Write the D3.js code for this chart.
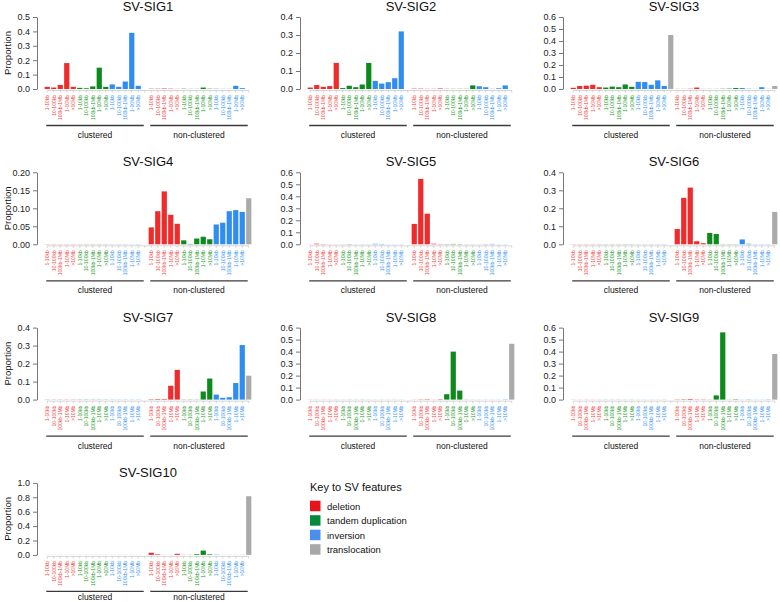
<!DOCTYPE html>
<html>
<head>
<meta charset="utf-8">
<script src="https://cdn.jsdelivr.net/npm/d3@7"></script>
<style>
  body { margin: 0; background: #fff; }
  svg, svg text { font-family: "Liberation Sans", Arial, sans-serif; }
</style>
</head>
<body>
<svg id="chart"></svg>
<script>
// ---- data ----
const SIZE_LABELS = ["1-10kb", "10-100kb", "100kb-1Mb", "1-10Mb", ">10Mb"];
const SV_TYPES = ["deletion", "tandem duplication", "inversion", "translocation"];
const GROUPS = ["clustered", "non-clustered"];
const SIGNATURES = ["SV-SIG1", "SV-SIG2", "SV-SIG3", "SV-SIG4", "SV-SIG5",
  "SV-SIG6", "SV-SIG7", "SV-SIG8", "SV-SIG9", "SV-SIG10"];
const Y_MAX = [0.5, 0.4, 0.6, 0.2, 0.6, 0.4, 0.4, 0.6, 0.6, 1.0];
const Y_STEP = [0.1, 0.1, 0.1, 0.05, 0.1, 0.1, 0.1, 0.1, 0.1, 0.2];

// order: clustered del x5, tds x5, inv x5, trans; then non-clustered same
const sig1 = [0.015, 0.01, 0.028, 0.18, 0.015, 0.008, 0.005, 0.018, 0.148, 0.015, 0.032, 0.015, 0.052, 0.39, 0.022, 0,
  0.002, 0.002, 0.003, 0.002, 0.001, 0.002, 0.001, 0.001, 0.01, 0.002, 0.002, 0.001, 0.001, 0.022, 0.006, 0];
const sig2 = [0.008, 0.022, 0.012, 0.016, 0.145, 0.005, 0.018, 0.01, 0.025, 0.145, 0.045, 0.03, 0.038, 0.06, 0.32, 0,
  0.002, 0.002, 0.001, 0.001, 0.003, 0.001, 0.001, 0.001, 0.001, 0.02, 0.015, 0.01, 0.001, 0.004, 0.02, 0];
const sig3 = [0.01, 0.025, 0.028, 0.035, 0.015, 0.012, 0.02, 0.015, 0.038, 0.018, 0.06, 0.058, 0.035, 0.072, 0.025, 0.45,
  0.001, 0.001, 0.002, 0.012, 0.001, 0.001, 0.001, 0.002, 0.003, 0.008, 0.008, 0.002, 0.001, 0.015, 0.001, 0.025];
const sig4 = [0.0005, 0.0005, 0.0005, 0.0005, 0.0005, 0.0005, 0.0005, 0.0005, 0.0005, 0.0005, 0.0005, 0.0005, 0.0005, 0.0005, 0.0005, 0,
  0.047, 0.092, 0.147, 0.082, 0.057, 0.011, 0.001, 0.016, 0.021, 0.014, 0.055, 0.06, 0.092, 0.095, 0.09, 0.128];
const sig5 = [0.001, 0.005, 0.002, 0.001, 0.001, 0.001, 0.002, 0.001, 0.001, 0.001, 0.004, 0.003, 0.001, 0.001, 0.001, 0,
  0.17, 0.545, 0.255, 0.005, 0.002, 0.002, 0.003, 0.002, 0.001, 0.001, 0.001, 0.002, 0.003, 0.001, 0.001, 0];
const sig6 = [0.001, 0.001, 0.001, 0.001, 0.001, 0.001, 0.001, 0.001, 0.001, 0.001, 0.001, 0.001, 0.001, 0.001, 0.001, 0,
  0.085, 0.258, 0.315, 0.017, 0.006, 0.063, 0.057, 0.001, 0.001, 0.001, 0.027, 0.003, 0.001, 0.001, 0.001, 0.18];
const sig7 = [0.001, 0.001, 0.001, 0.001, 0.001, 0.001, 0.001, 0.001, 0.001, 0.001, 0.001, 0.001, 0.001, 0.001, 0.001, 0,
  0.002, 0.003, 0.003, 0.077, 0.165, 0.001, 0.001, 0.001, 0.045, 0.117, 0.028, 0.01, 0.013, 0.092, 0.303, 0.133];
const sig8 = [0.001, 0.001, 0.001, 0.001, 0.001, 0.001, 0.001, 0.001, 0.001, 0.001, 0.001, 0.001, 0.001, 0.001, 0.001, 0,
  0.001, 0.002, 0.003, 0.001, 0.003, 0.045, 0.4, 0.075, 0.001, 0.001, 0.001, 0.001, 0.001, 0.001, 0.002, 0.465];
const sig9 = [0.001, 0.001, 0.001, 0.001, 0.001, 0.001, 0.001, 0.001, 0.001, 0.001, 0.001, 0.001, 0.001, 0.001, 0.001, 0,
  0.002, 0.003, 0.005, 0.002, 0.002, 0.001, 0.035, 0.56, 0.001, 0.003, 0.001, 0.002, 0.001, 0.001, 0.002, 0.38];
const sig10 = [0.001, 0.001, 0.001, 0.001, 0.001, 0.001, 0.001, 0.001, 0.001, 0.001, 0.001, 0.001, 0.001, 0.001, 0.001, 0,
  0.03, 0.008, 0.001, 0.001, 0.015, 0.002, 0.002, 0.01, 0.06, 0.008, 0.004, 0.001, 0.001, 0.001, 0.002, 0.815];
const SIG_VALUES = [sig1, sig2, sig3, sig4, sig5, sig6, sig7, sig8, sig9, sig10];

// ---- layout ----
const WIDTH = 780;
const HEIGHT = 602;
const COL_STEP = 263;
const ROW_STEP = 155.3;
const PLOT_TOP = 17;
const PLOT_HEIGHT = 72;
const AXIS_X = 37;
const BARS_START = 44;
const BARS_END = 252;
const FONT = "'Liberation Sans', Arial, sans-serif";

const BAR_COLORS = { deletion: "#ef2b2b", "tandem duplication": "#0c8a1c", inversion: "#2f8cf0", translocation: "#aaaaaa" };
const LABEL_COLORS = { deletion: "#f04848", "tandem duplication": "#1f9a2c", inversion: "#3d95f2", translocation: "#aaaaaa" };
const LEGEND_COLORS = { deletion: "#e8121b", "tandem duplication": "#05893c", inversion: "#4a8ff0", translocation: "#a8a8a8" };

// build the 32 features from groups x types x sizes
const features = [];
GROUPS.forEach((g) => {
  SV_TYPES.forEach((t) => {
    if (t === "translocation") {
      features.push({ group: g, type: t, label: "" });
    } else {
      SIZE_LABELS.forEach((s) => features.push({ group: g, type: t, label: s }));
    }
  });
});

const svg = d3.select("#chart").attr("width", WIDTH).attr("height", HEIGHT);

SIGNATURES.forEach((name, k) => {
  const col = k % 3;
  const row = Math.floor(k / 3);
  const ox = col * COL_STEP;
  const top = PLOT_TOP + row * ROW_STEP;
  const zero = top + PLOT_HEIGHT;

  const g = svg.append("g").classed("panel", true);

  const xScale = d3.scaleBand()
    .domain(d3.range(features.length))
    .range([ox + BARS_START, ox + BARS_END])
    .paddingInner(0.2)
    .paddingOuter(0.1);
  const yScale = d3.scaleLinear().domain([0, Y_MAX[k]]).range([zero, top]);
  const bw = xScale.bandwidth();

  // title
  g.append("text")
    .attr("x", ox + (BARS_START + BARS_END) / 2)
    .attr("y", top - 6)
    .attr("text-anchor", "middle")
    .style("font-size", "13px")
    .attr("fill", "#111")
    .text(name);

  // y axis
  const step = Y_STEP[k];
  const ticks = d3.range(0, Y_MAX[k] + step / 2, step);
  const yAxis = d3.axisLeft(yScale)
    .tickValues(ticks)
    .tickSize(4)
    .tickSizeOuter(0)
    .tickPadding(3)
    .tickFormat(d3.format(step < 0.1 ? ".2f" : ".1f"));
  const ya = g.append("g")
    .attr("transform", `translate(${ox + AXIS_X}, 0)`)
    .call(yAxis);
  ya.select(".domain").attr("stroke", "#777");
  ya.selectAll(".tick line").attr("stroke", "#777");
  ya.selectAll(".tick text")
    .attr("fill", "#222")
    .style("font-size", "9px")
    .style("font-family", FONT);

  if (col === 0) {
    g.append("text")
      .attr("transform", `translate(${ox + 11}, ${(top + zero) / 2}) rotate(-90)`)
      .attr("text-anchor", "middle")
      .style("font-size", "9.5px")
      .attr("fill", "#111")
      .text("Proportion");
  }

  // bars
  g.selectAll(".bar")
    .data(SIG_VALUES[k])
    .join("rect")
    .classed("bar", true)
    .attr("x", (d, i) => xScale(i))
    .attr("width", bw)
    .attr("y", (d) => yScale(d))
    .attr("height", (d) => yScale(0) - yScale(d))
    .attr("fill", (d, i) => BAR_COLORS[features[i].type]);

  // x axis line with ticks
  const first = xScale(0) + bw / 2;
  const last = xScale(features.length - 1) + bw / 2;
  g.append("line")
    .attr("x1", first).attr("x2", last)
    .attr("y1", zero + 1.5).attr("y2", zero + 1.5)
    .attr("stroke", "#bbb").attr("stroke-width", 0.6);
  g.selectAll(".xtick")
    .data(features)
    .join("line")
    .classed("xtick", true)
    .attr("x1", (d, i) => xScale(i) + bw / 2)
    .attr("x2", (d, i) => xScale(i) + bw / 2)
    .attr("y1", zero + 1.5)
    .attr("y2", zero + 3.5)
    .attr("stroke", "#bbb").attr("stroke-width", 0.6);

  // size labels
  g.selectAll(".xlabel")
    .data(features)
    .join("text")
    .classed("xlabel", true)
    .attr("transform", (d, i) => `translate(${xScale(i) + bw / 2}, ${zero + 6}) rotate(-90)`)
    .attr("dy", "0.35em")
    .attr("text-anchor", "end")
    .style("font-size", "5px")
    .style("font-family", FONT)
    .attr("fill", (d) => LABEL_COLORS[d.type])
    .text((d) => d.label);

  // group brackets
  GROUPS.forEach((grp) => {
    const idx = features.map((f, i) => (f.group === grp ? i : -1)).filter((i) => i >= 0);
    const x1 = xScale(idx[0]) + bw / 2 - 1;
    const x2 = xScale(idx[idx.length - 1]) + bw / 2 - 1;
    g.append("line")
      .attr("x1", x1).attr("x2", x2)
      .attr("y1", zero + 36.5).attr("y2", zero + 36.5)
      .attr("stroke", "#3a3a3a").attr("stroke-width", 1.3);
    g.append("text")
      .attr("x", (x1 + x2) / 2)
      .attr("y", Math.min(zero + 49, HEIGHT - 2.5))
      .attr("text-anchor", "middle")
      .style("font-size", "8.5px")
      .attr("fill", "#111")
      .text(grp);
  });
});

// legend
const legend = svg.append("g").attr("transform", "translate(310, 0)");
legend.append("text")
  .attr("x", 0).attr("y", 491)
  .style("font-size", "11px")
  .attr("fill", "#111")
  .text("Key to SV features");
legend.selectAll(".key")
  .data(SV_TYPES)
  .join("rect")
  .classed("key", true)
  .attr("x", 0)
  .attr("y", (d, i) => 500.7 + i * 14.5)
  .attr("width", 10.5)
  .attr("height", 10.5)
  .attr("fill", (d) => LEGEND_COLORS[d]);
legend.selectAll(".key-label")
  .data(SV_TYPES)
  .join("text")
  .classed("key-label", true)
  .attr("x", 17)
  .attr("y", (d, i) => 509.5 + i * 14.5)
  .style("font-size", "9.5px")
  .attr("fill", "#111")
  .text((d) => d);
</script>
</body>
</html>
